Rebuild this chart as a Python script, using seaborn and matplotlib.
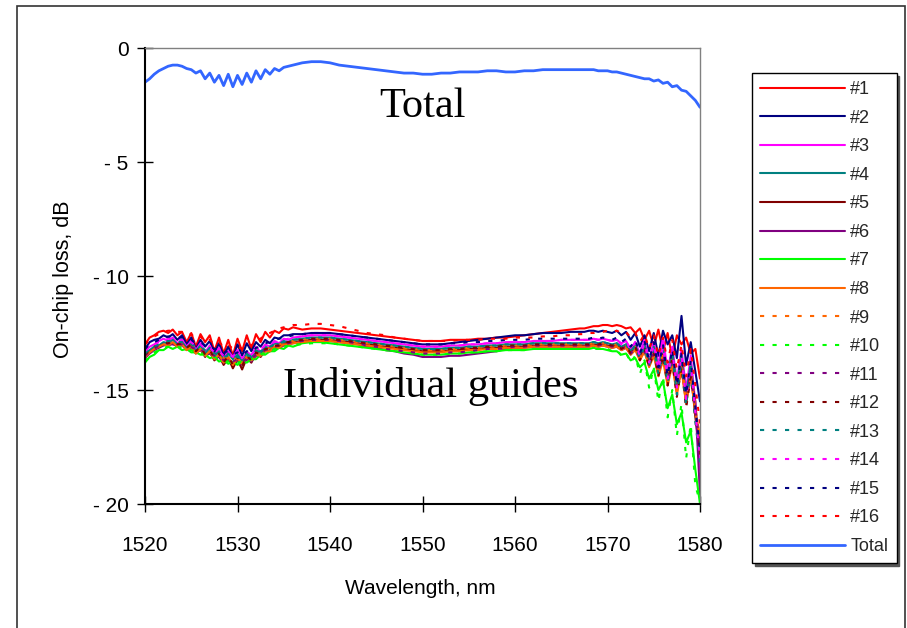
import matplotlib
matplotlib.use("Agg")
import matplotlib.pyplot as plt
import seaborn as sns
from matplotlib.patches import Rectangle

# ---------------- data ----------------
wavelength = [
    1520.0, 1520.5, 1521.0, 1521.5, 1522.0, 1522.5, 1523.0, 1523.5, 1524.0, 1524.5,
    1525.0, 1525.5, 1526.0, 1526.5, 1527.0, 1527.5, 1528.0, 1528.5, 1529.0, 1529.5,
    1530.0, 1530.5, 1531.0, 1531.5, 1532.0, 1532.5, 1533.0, 1533.5, 1534.0, 1534.5,
    1535.0, 1535.5, 1536.0,
    1537, 1538, 1539, 1540, 1541, 1542, 1543, 1544, 1545, 1546,
    1547, 1548, 1549, 1550, 1551, 1552, 1553, 1554, 1555, 1556,
    1557, 1558, 1559, 1560, 1561, 1562, 1563, 1564, 1565, 1566, 1567,
    1567.5, 1568.0, 1568.5, 1569.0, 1569.5, 1570.0, 1570.5, 1571.0, 1571.5, 1572.0,
    1572.5, 1573.0, 1573.5, 1574.0, 1574.5, 1575.0, 1575.5, 1576.0, 1576.5, 1577.0,
    1577.5, 1578.0, 1578.5, 1579.0, 1579.5, 1580.0,
]

guide_01 = [
    -13.0, -12.7, -12.6, -12.45, -12.4, -12.5, -12.35, -12.6, -12.45, -12.9,
    -12.5, -13.1, -12.55, -12.9, -12.6, -13.3, -12.7, -13.4, -12.8, -13.5,
    -12.75, -13.3, -12.6, -13.2, -12.55, -12.9, -12.45, -12.7, -12.4, -12.5,
    -12.3, -12.35, -12.25,
    -12.35, -12.3, -12.3, -12.35, -12.4, -12.45, -12.5, -12.55, -12.6, -12.65,
    -12.7, -12.75, -12.8, -12.85, -12.85, -12.85, -12.8, -12.8, -12.8, -12.75,
    -12.75, -12.7, -12.7, -12.65, -12.6, -12.55, -12.5, -12.45, -12.4, -12.35, -12.3,
    -12.3, -12.25, -12.2, -12.2, -12.15, -12.15, -12.2, -12.15, -12.2, -12.3,
    -12.25, -12.5, -12.3, -12.8, -12.4, -13.1, -12.35, -13.3, -12.5, -13.6,
    -12.6, -13.0, -12.7, -13.4, -13.2, -14.5,
]
guide_02 = [
    -13.2, -12.9, -12.8, -12.75, -12.6, -12.7, -12.55, -12.8, -12.6, -13.0,
    -12.7, -13.2, -12.8, -13.1, -12.85, -13.4, -12.95, -13.5, -13.1, -13.6,
    -13.0, -13.5, -12.95, -13.3, -12.9, -13.1, -12.8, -12.95, -12.7, -12.75,
    -12.6, -12.6, -12.55,
    -12.55, -12.5, -12.5, -12.5, -12.55, -12.6, -12.65, -12.7, -12.75, -12.8,
    -12.85, -12.9, -12.95, -13.0, -13.0, -13.0, -12.95, -12.9, -12.85, -12.8,
    -12.75, -12.7, -12.65, -12.6, -12.6, -12.55, -12.5, -12.5, -12.5, -12.45, -12.45,
    -12.45, -12.4, -12.4, -12.45, -12.4, -12.45, -12.5, -12.4, -12.6, -12.45,
    -12.8, -12.5, -13.1, -12.6, -13.3, -12.5, -13.5, -12.4, -13.0, -12.6,
    -13.6, -11.75, -13.9, -12.9, -14.2, -15.5,
]
guide_03 = [
    -13.3, -13.1, -13.0, -12.85, -12.75, -12.85, -12.7, -12.95, -12.8, -13.1,
    -12.85, -13.25, -12.95, -13.35, -13.05, -13.5, -13.15, -13.65, -13.3, -13.55,
    -13.25, -13.7, -13.3, -13.5, -13.1, -13.35, -13.0, -13.1, -12.85, -12.95,
    -12.75, -12.8, -12.7,
    -12.65, -12.6, -12.6, -12.6, -12.65, -12.7, -12.75, -12.8, -12.85, -12.9,
    -12.95, -13.0, -13.05, -13.1, -13.1, -13.1, -13.05, -13.05, -13.0, -13.0,
    -12.95, -12.95, -12.9, -12.9, -12.9, -12.85, -12.85, -12.85, -12.8, -12.8, -12.8,
    -12.8, -12.8, -12.75, -12.8, -12.75, -12.8, -12.85, -12.8, -12.95, -12.85,
    -13.2, -12.9, -13.4, -12.8, -13.7, -12.9, -13.9, -12.7, -14.2, -13.1,
    -14.6, -13.2, -15.0, -13.5, -15.6, -18.5,
]
guide_04 = [
    -13.45, -13.25, -13.1, -13.05, -12.9, -12.95, -12.8, -13.0, -12.9, -13.15,
    -12.95, -13.3, -13.05, -13.4, -13.15, -13.55, -13.3, -13.7, -13.4, -13.65,
    -13.45, -13.75, -13.4, -13.6, -13.25, -13.4, -13.1, -13.2, -12.95, -13.0,
    -12.85, -12.9, -12.8,
    -12.75, -12.7, -12.7, -12.7, -12.75, -12.8, -12.85, -12.9, -12.95, -13.0,
    -13.05, -13.1, -13.15, -13.2, -13.2, -13.2, -13.15, -13.15, -13.1, -13.1,
    -13.05, -13.05, -13.0, -13.0, -13.0, -12.95, -12.95, -12.95, -12.95, -12.95, -12.95,
    -12.95, -12.95, -12.9, -12.95, -12.9, -12.95, -13.0, -12.95, -13.1, -13.0,
    -13.3, -13.05, -13.5, -13.0, -13.8, -13.1, -14.1, -13.2, -14.4, -13.3,
    -14.8, -13.5, -15.3, -13.8, -15.9, -17.5,
]
guide_05 = [
    -13.5, -13.35, -13.2, -13.1, -13.0, -13.05, -12.95, -13.1, -13.0, -13.25,
    -13.1, -13.4, -13.2, -13.55, -13.3, -13.7, -13.5, -13.9, -13.6, -14.05,
    -13.65, -14.1, -13.6, -13.8, -13.4, -13.55, -13.25, -13.3, -13.1, -13.1,
    -12.95, -12.95, -12.9,
    -12.85, -12.8, -12.8, -12.8, -12.85, -12.9, -12.95, -13.0, -13.05, -13.1,
    -13.15, -13.2, -13.25, -13.3, -13.3, -13.3, -13.25, -13.25, -13.2, -13.2,
    -13.15, -13.15, -13.1, -13.1, -13.1, -13.05, -13.05, -13.05, -13.05, -13.05, -13.05,
    -13.05, -13.05, -13.0, -13.05, -13.0, -13.05, -13.1, -13.05, -13.2, -13.1,
    -13.4, -13.15, -13.6, -13.2, -13.9, -13.3, -14.3, -13.4, -14.7, -13.6,
    -15.1, -13.9, -15.6, -14.2, -16.2, -17.8,
]
guide_06 = [
    -13.6, -13.4, -13.25, -13.15, -13.05, -13.0, -13.0, -13.05, -13.05, -13.2,
    -13.15, -13.35, -13.25, -13.5, -13.4, -13.6, -13.55, -13.8, -13.65, -13.85,
    -13.7, -13.9, -13.65, -13.75, -13.5, -13.5, -13.3, -13.3, -13.15, -13.15,
    -13.05, -13.0, -12.95,
    -12.9, -12.85, -12.85, -12.85, -12.9, -12.95, -13.0, -13.1, -13.15, -13.25,
    -13.3, -13.4, -13.45, -13.55, -13.55, -13.55, -13.5, -13.5, -13.45, -13.4,
    -13.35, -13.3, -13.2, -13.15, -13.15, -13.1, -13.1, -13.1, -13.1, -13.1, -13.1,
    -13.1, -13.1, -13.05, -13.1, -13.05, -13.1, -13.15, -13.1, -13.25, -13.15,
    -13.45, -13.2, -13.65, -13.3, -13.95, -13.4, -14.3, -13.5, -14.6, -13.7,
    -15.0, -14.0, -15.4, -14.3, -15.5, -19.6,
]
guide_07 = [
    -13.8, -13.55, -13.45, -13.25, -13.25, -13.1, -13.2, -13.1, -13.25, -13.2,
    -13.35, -13.35, -13.45, -13.45, -13.6, -13.55, -13.75, -13.7, -13.85, -13.75,
    -13.9, -13.75, -13.8, -13.65, -13.65, -13.45, -13.45, -13.3, -13.3, -13.15,
    -13.2, -13.05, -13.1,
    -12.95, -12.9, -12.9, -12.95, -13.0, -13.05, -13.1, -13.15, -13.2, -13.25,
    -13.3, -13.35, -13.4, -13.45, -13.45, -13.45, -13.4, -13.4, -13.35, -13.35,
    -13.3, -13.3, -13.25, -13.25, -13.25, -13.2, -13.2, -13.2, -13.2, -13.2, -13.2,
    -13.2, -13.2, -13.15, -13.2, -13.2, -13.25, -13.3, -13.3, -13.45, -13.4,
    -13.7, -13.6, -14.0, -13.8, -14.5, -14.1, -15.0, -14.6, -15.8, -15.2,
    -16.5, -16.0, -17.3, -16.8, -18.5, -20.0,
]
guide_08 = [
    -13.55, -13.35, -13.2, -13.1, -13.0, -13.05, -12.9, -13.1, -13.0, -13.25,
    -13.1, -13.4, -13.2, -13.5, -13.3, -13.65, -13.45, -13.8, -13.55, -13.9,
    -13.6, -13.85, -13.55, -13.7, -13.45, -13.5, -13.3, -13.3, -13.1, -13.15,
    -13.0, -13.0, -12.95,
    -12.9, -12.85, -12.85, -12.85, -12.9, -12.95, -13.0, -13.05, -13.1, -13.15,
    -13.2, -13.25, -13.3, -13.35, -13.35, -13.35, -13.3, -13.3, -13.25, -13.25,
    -13.2, -13.2, -13.15, -13.15, -13.15, -13.1, -13.1, -13.1, -13.1, -13.1, -13.1,
    -13.1, -13.1, -13.05, -13.1, -13.05, -13.1, -13.15, -13.1, -13.25, -13.15,
    -13.45, -13.25, -13.7, -13.3, -14.0, -13.5, -14.4, -13.7, -14.8, -13.9,
    -15.2, -14.1, -15.6, -14.4, -16.0, -17.0,
]
guide_09 = [
    -13.45, -13.25, -13.15, -13.0, -12.95, -12.9, -12.9, -12.95, -12.95, -13.05,
    -13.05, -13.2, -13.15, -13.35, -13.3, -13.45, -13.45, -13.6, -13.55, -13.65,
    -13.6, -13.7, -13.55, -13.55, -13.4, -13.35, -13.2, -13.15, -13.05, -13.0,
    -12.95, -12.9, -12.85,
    -12.8, -12.75, -12.75, -12.75, -12.8, -12.85, -12.9, -12.95, -13.0, -13.05,
    -13.1, -13.15, -13.2, -13.25, -13.25, -13.25, -13.2, -13.2, -13.15, -13.15,
    -13.1, -13.1, -13.05, -13.05, -13.05, -13.0, -13.0, -13.0, -13.0, -13.0, -13.0,
    -13.0, -13.0, -12.95, -13.0, -12.95, -13.0, -13.05, -13.0, -13.15, -13.05,
    -13.35, -13.1, -13.55, -13.2, -13.85, -13.3, -14.2, -13.4, -14.5, -13.6,
    -14.9, -13.8, -15.3, -14.1, -15.7, -17.2,
]
guide_10 = [
    -13.75, -13.5, -13.35, -13.25, -13.15, -13.1, -13.1, -13.1, -13.15, -13.2,
    -13.25, -13.35, -13.35, -13.45, -13.5, -13.55, -13.65, -13.7, -13.75, -13.75,
    -13.8, -13.75, -13.7, -13.65, -13.55, -13.45, -13.35, -13.3, -13.2, -13.15,
    -13.1, -13.05, -13.0,
    -13.0, -12.95, -12.95, -12.95, -13.0, -13.05, -13.1, -13.15, -13.2, -13.25,
    -13.3, -13.35, -13.4, -13.45, -13.45, -13.45, -13.4, -13.4, -13.35, -13.35,
    -13.3, -13.3, -13.25, -13.25, -13.25, -13.2, -13.2, -13.2, -13.2, -13.2, -13.2,
    -13.2, -13.2, -13.2, -13.2, -13.15, -13.2, -13.3, -13.25, -13.5, -13.35,
    -13.8, -13.5, -14.3, -13.7, -14.9, -14.0, -15.5, -14.4, -16.2, -15.0,
    -17.0, -15.6, -18.0, -16.5, -19.2, -19.9,
]
guide_11 = [
    -13.5, -13.3, -13.2, -13.05, -13.0, -12.95, -12.95, -13.0, -13.0, -13.1,
    -13.1, -13.25, -13.2, -13.4, -13.35, -13.5, -13.5, -13.7, -13.6, -13.75,
    -13.65, -13.8, -13.6, -13.65, -13.45, -13.4, -13.25, -13.2, -13.1, -13.05,
    -13.0, -12.95, -12.9,
    -12.85, -12.8, -12.8, -12.8, -12.85, -12.9, -12.95, -13.05, -13.1, -13.2,
    -13.25, -13.3, -13.35, -13.4, -13.4, -13.4, -13.35, -13.35, -13.3, -13.25,
    -13.2, -13.2, -13.15, -13.1, -13.1, -13.05, -13.05, -13.05, -13.05, -13.05, -13.05,
    -13.05, -13.05, -13.0, -13.05, -13.0, -13.05, -13.1, -13.05, -13.2, -13.1,
    -13.4, -13.2, -13.6, -13.3, -13.9, -13.4, -14.2, -13.6, -14.6, -13.8,
    -15.0, -14.0, -15.4, -14.3, -15.9, -17.4,
]
guide_12 = [
    -13.45, -13.25, -13.1, -13.0, -12.9, -12.95, -12.85, -13.0, -12.95, -13.15,
    -13.0, -13.3, -13.1, -13.45, -13.25, -13.6, -13.4, -13.8, -13.5, -13.9,
    -13.55, -13.95, -13.5, -13.7, -13.35, -13.45, -13.2, -13.2, -13.05, -13.05,
    -12.9, -12.9, -12.85,
    -12.8, -12.75, -12.75, -12.75, -12.8, -12.85, -12.9, -12.95, -13.0, -13.05,
    -13.1, -13.15, -13.2, -13.25, -13.25, -13.25, -13.2, -13.2, -13.15, -13.15,
    -13.1, -13.1, -13.05, -13.05, -13.05, -13.0, -13.0, -13.0, -13.0, -13.0, -13.0,
    -13.0, -13.0, -12.95, -13.0, -12.95, -13.0, -13.05, -13.0, -13.2, -13.05,
    -13.4, -13.1, -13.7, -13.2, -14.0, -13.3, -14.4, -13.5, -14.8, -13.7,
    -15.3, -14.0, -15.8, -14.4, -16.3, -18.0,
]
guide_13 = [
    -13.4, -13.2, -13.1, -13.0, -12.9, -12.85, -12.85, -12.9, -12.9, -13.0,
    -13.0, -13.1, -13.1, -13.25, -13.25, -13.4, -13.4, -13.55, -13.5, -13.6,
    -13.55, -13.65, -13.5, -13.5, -13.35, -13.3, -13.15, -13.1, -13.0, -12.95,
    -12.9, -12.85, -12.8,
    -12.75, -12.7, -12.7, -12.7, -12.75, -12.8, -12.85, -12.9, -12.95, -13.0,
    -13.05, -13.1, -13.15, -13.2, -13.2, -13.2, -13.15, -13.15, -13.1, -13.1,
    -13.05, -13.05, -13.0, -13.0, -13.0, -12.95, -12.95, -12.95, -12.95, -12.95, -12.95,
    -12.95, -12.95, -12.9, -12.95, -12.9, -12.95, -13.0, -12.95, -13.15, -13.0,
    -13.35, -13.05, -13.6, -13.1, -13.9, -13.2, -14.3, -13.3, -14.7, -13.5,
    -15.2, -13.7, -15.7, -14.0, -16.4, -18.2,
]
guide_14 = [
    -13.3, -13.1, -13.0, -12.9, -12.8, -12.75, -12.75, -12.8, -12.8, -12.95,
    -12.9, -13.1, -13.0, -13.2, -13.15, -13.35, -13.3, -13.5, -13.4, -13.55,
    -13.45, -13.6, -13.4, -13.45, -13.25, -13.2, -13.05, -13.0, -12.9, -12.85,
    -12.8, -12.75, -12.7,
    -12.65, -12.6, -12.6, -12.6, -12.65, -12.7, -12.75, -12.8, -12.85, -12.9,
    -12.95, -13.0, -13.05, -13.1, -13.1, -13.1, -13.05, -13.05, -13.0, -13.0,
    -12.95, -12.95, -12.9, -12.9, -12.9, -12.85, -12.85, -12.85, -12.8, -12.8, -12.8,
    -12.8, -12.8, -12.75, -12.8, -12.75, -12.8, -12.85, -12.8, -13.0, -12.85,
    -13.25, -12.9, -13.5, -12.95, -13.8, -13.0, -14.1, -13.1, -14.5, -13.3,
    -14.9, -13.5, -15.4, -13.8, -16.0, -18.0,
]
guide_15 = [
    -13.2, -13.0, -12.9, -12.8, -12.7, -12.65, -12.65, -12.7, -12.7, -12.8,
    -12.8, -12.95, -12.9, -13.05, -13.05, -13.2, -13.2, -13.35, -13.3, -13.45,
    -13.35, -13.5, -13.3, -13.35, -13.15, -13.1, -12.95, -12.9, -12.8, -12.75,
    -12.7, -12.65, -12.6,
    -12.55, -12.5, -12.5, -12.5, -12.55, -12.6, -12.65, -12.7, -12.75, -12.8,
    -12.85, -12.9, -12.95, -13.0, -13.0, -13.0, -12.95, -12.95, -12.9, -12.9,
    -12.85, -12.85, -12.8, -12.8, -12.8, -12.75, -12.75, -12.75, -12.75, -12.75, -12.75,
    -12.75, -12.75, -12.7, -12.75, -12.7, -12.75, -12.8, -12.7, -12.9, -12.75,
    -13.1, -12.8, -13.4, -12.85, -13.7, -12.9, -14.0, -13.0, -14.4, -13.2,
    -14.8, -13.4, -15.2, -13.7, -15.8, -17.5,
]
guide_16 = [
    -13.0, -12.8, -12.65, -12.55, -12.45, -12.4, -12.4, -12.45, -12.45, -12.6,
    -12.55, -12.75, -12.65, -12.9, -12.8, -13.0, -12.9, -13.1, -13.0, -13.2,
    -13.1, -13.2, -13.0, -13.05, -12.8, -12.75, -12.55, -12.5, -12.4, -12.3,
    -12.25, -12.2, -12.15,
    -12.15, -12.1, -12.1, -12.15, -12.2, -12.3, -12.4, -12.5, -12.55, -12.6,
    -12.7, -12.75, -12.8, -12.85, -12.85, -12.85, -12.85, -12.8, -12.8, -12.8,
    -12.75, -12.75, -12.75, -12.7, -12.7, -12.7, -12.65, -12.65, -12.6, -12.6, -12.55,
    -12.55, -12.5, -12.5, -12.45, -12.45, -12.4, -12.45, -12.4, -12.5, -12.45,
    -12.7, -12.5, -12.9, -12.55, -13.2, -12.6, -13.5, -12.7, -13.8, -12.8,
    -14.1, -13.0, -14.4, -13.2, -14.8, -16.5,
]
total = [
    -1.5, -1.35, -1.15, -1.0, -0.9, -0.8, -0.75, -0.75, -0.8, -0.9,
    -0.95, -1.1, -1.0, -1.35, -1.1, -1.5, -1.2, -1.65, -1.15, -1.7,
    -1.2, -1.6, -1.1, -1.5, -1.0, -1.35, -0.95, -1.15, -0.9, -1.0,
    -0.85, -0.8, -0.75,
    -0.65, -0.6, -0.6, -0.65, -0.75, -0.8, -0.85, -0.9, -0.95, -1.0,
    -1.05, -1.1, -1.1, -1.15, -1.15, -1.1, -1.1, -1.05, -1.05, -1.05,
    -1.0, -1.0, -1.05, -1.05, -1.0, -1.0, -0.95, -0.95, -0.95, -0.95, -0.95,
    -0.95, -0.95, -0.95, -1.0, -1.0, -1.0, -1.05, -1.05, -1.1, -1.15,
    -1.2, -1.25, -1.3, -1.35, -1.35, -1.45, -1.4, -1.55, -1.5, -1.7,
    -1.65, -1.85, -1.9, -2.1, -2.3, -2.6,
]

series_names = ["#1", "#2", "#3", "#4", "#5", "#6", "#7", "#8", "#9", "#10",
                "#11", "#12", "#13", "#14", "#15", "#16", "Total"]
x_ticks = [1520, 1530, 1540, 1550, 1560, 1570, 1580]
y_ticks = [0, -5, -10, -15, -20]
y_tick_labels = ["0", "- 5", "- 10", "- 15", "- 20"]

# ---------------- styles ----------------
series_values = [guide_01, guide_02, guide_03, guide_04, guide_05, guide_06,
                 guide_07, guide_08, guide_09, guide_10, guide_11, guide_12,
                 guide_13, guide_14, guide_15, guide_16, total]
colors = ["#FF0000", "#000080", "#FF00FF", "#008080", "#800000", "#800080",
          "#00FF00", "#FF6600", "#FF6600", "#00FF00", "#800080", "#800000",
          "#008080", "#FF00FF", "#000080", "#FF0000", "#3366FF"]
DOT = (0, (2, 4))
styles = ["-"] * 8 + [DOT] * 8 + ["-"]
widths = [1.5] * 16 + [2.0]

for v in series_values:
    if len(v) != len(wavelength):
        raise ValueError("length mismatch")

sns.set_theme(style="white")
plt.rcParams["font.family"] = ["Liberation Sans", "DejaVu Sans"]

fig = plt.figure(figsize=(9.07, 6.28), dpi=100)
ax = fig.add_axes([145 / 907, 1 - 504 / 628, 555 / 907, 456 / 628])

for name, vals, c, ls, lw in zip(series_names, series_values, colors, styles, widths):
    sns.lineplot(x=wavelength, y=vals, ax=ax, color=c, linestyle=ls, linewidth=lw,
                 label=name, sort=False, estimator=None)

ax.set_xlim(1520, 1580)
ax.set_ylim(-20, 0)
ax.set_xticks(x_ticks)
ax.set_xticklabels([str(t) for t in x_ticks])
ax.set_yticks(y_ticks)
ax.set_yticklabels(y_tick_labels)
ax.tick_params(axis="both", direction="inout", length=11.5, width=1, color="black",
               labelsize=15, labelcolor="black")
ax.tick_params(axis="x", pad=17)
ax.tick_params(axis="y", pad=6)
ax.tick_params(left=True, bottom=True)

for side in ["left", "bottom"]:
    ax.spines[side].set_color("black")
    ax.spines[side].set_linewidth(1.5)
for side in ["top", "right"]:
    ax.spines[side].set_color("#808080")
    ax.spines[side].set_linewidth(1.0)

ax.set_xlabel("Wavelength, nm", fontsize=15, color="black")
ax.set_ylabel("On-chip loss, dB", fontsize=15.5, color="black")
ax.xaxis.label.set_va("center")
ax.yaxis.label.set_va("center")
ax.xaxis.set_label_coords((420 - 145) / 555, (504 - 588) / 456)
ax.yaxis.set_label_coords((63 - 145) / 555, (504 - 279) / 456)

ax.text(1550.05, -3.03, "Total", fontfamily="Liberation Serif", fontsize=30.5,
        ha="center", va="baseline", color="black")
ax.text(1550.9, -15.3, "Individual guides", fontfamily="Liberation Serif", fontsize=30.5,
        ha="center", va="baseline", color="black")

handles, labels = ax.get_legend_handles_labels()
ax.get_legend().remove()
leg = fig.legend(handles, labels, loc="upper left",
                 bbox_to_anchor=(752 / 907, 1 - 73 / 628), borderaxespad=0,
                 fontsize=13, handlelength=4.7, handletextpad=0.3,
                 labelspacing=0.64, borderpad=0.45, frameon=True, fancybox=False,
                 framealpha=1, edgecolor="black", shadow={"color": "#555555", "alpha": 1})
leg.get_frame().set_linewidth(1.0)

fig.add_artist(Rectangle((17 / 907, -0.02), (905 - 17) / 907, 1.02 - 6 / 628,
                         transform=fig.transFigure, fill=False,
                         edgecolor="#333333", linewidth=1.2))

fig.savefig("out.png", dpi=100, facecolor="white")
